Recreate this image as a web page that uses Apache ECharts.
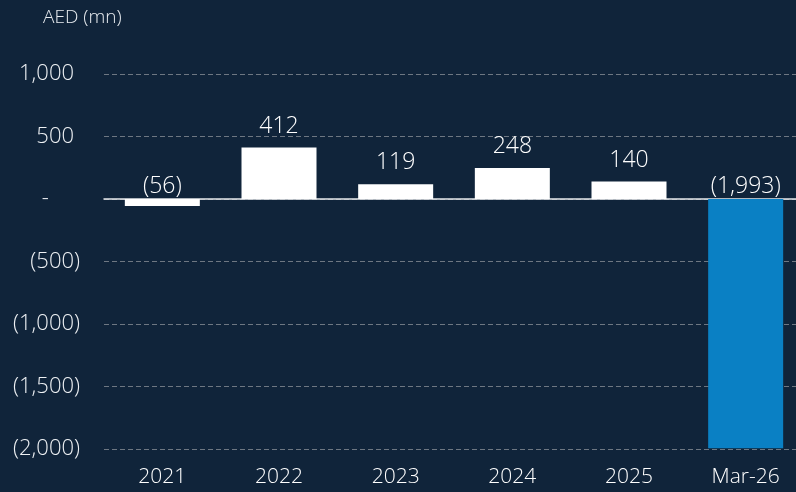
<!DOCTYPE html>
<html>
<head>
<meta charset="utf-8">
<script src="https://cdn.jsdelivr.net/npm/echarts@6/dist/echarts.min.js"></script>
<style>
html,body{margin:0;padding:0;background:#10243a;overflow:hidden;width:796px;height:492px;}
#c{width:804px;height:492px;}
</style>
</head>
<body>
<div id="c"></div>
<script>
var categories = ['2021', '2022', '2023', '2024', '2025', 'Mar-26'];
var values = [-56, 412, 119, 248, 140, -1993];
var highlightIndex = 5;
var yTicks = { min: -2000, max: 1000, interval: 500 };
var unitLabel = 'AED (mn)';

var FONT = '"Open Sans", sans-serif';
var W = 300;
function fmtNum(v) {
  var a = Math.abs(v).toLocaleString('en-US');
  return v < 0 ? '(' + a + ')' : a;
}
var chart = echarts.init(document.getElementById('c'));
chart.setOption({
  backgroundColor: '#10243a',
  animation: false,
  grid: { left: 104, right: 0, top: 74, bottom: 43, containLabel: false },
  graphic: [{
    type: 'text', left: 43, top: 8,
    style: { text: unitLabel, fill: '#e8ecf0', font: W + ' 19px ' + FONT }
  }],
  xAxis: {
    type: 'category',
    data: categories,
    axisLine: { onZero: true, lineStyle: { color: '#e6e9ec', width: 1.5 } },
    axisTick: { show: false },
    axisLabel: {
      color: '#ffffff', fontFamily: FONT, fontSize: 21, fontWeight: W,
      margin: 18
    },
    position: 'bottom'
  },
  yAxis: {
    type: 'value',
    min: yTicks.min, max: yTicks.max, interval: yTicks.interval,
    axisLine: { show: false },
    axisTick: { show: false },
    splitLine: { lineStyle: { color: '#6e7782', type: [5, 3], width: 1 } },
    axisLabel: {
      margin: 24,
      formatter: function (v) {
        if (v === 0) return '{a|-}{p|00)}';
        if (v > 0) return '{a|' + fmtNum(v) + '}{p|)}';
        return '{a|' + fmtNum(v) + '}';
      },
      rich: {
        a: { color: '#eef1f4', fontFamily: FONT, fontSize: 22, fontWeight: W },
        p: { color: 'rgba(0,0,0,0)', fontFamily: FONT, fontSize: 22, fontWeight: W }
      }
    }
  },
  series: [{
    type: 'bar',
    barWidth: 75,
    data: values.map(function (v, i) {
      return {
        value: v,
        itemStyle: { color: i === highlightIndex ? '#0a80c4' : '#ffffff' },
        label: { distance: v < 0 ? 1 : 10 }
      };
    }),
    label: {
      show: true, position: 'top',
      color: '#ffffff', fontFamily: FONT, fontSize: 23, fontWeight: W,
      formatter: function (p) { return fmtNum(p.value); }
    }
  }]
});
</script>
</body>
</html>
